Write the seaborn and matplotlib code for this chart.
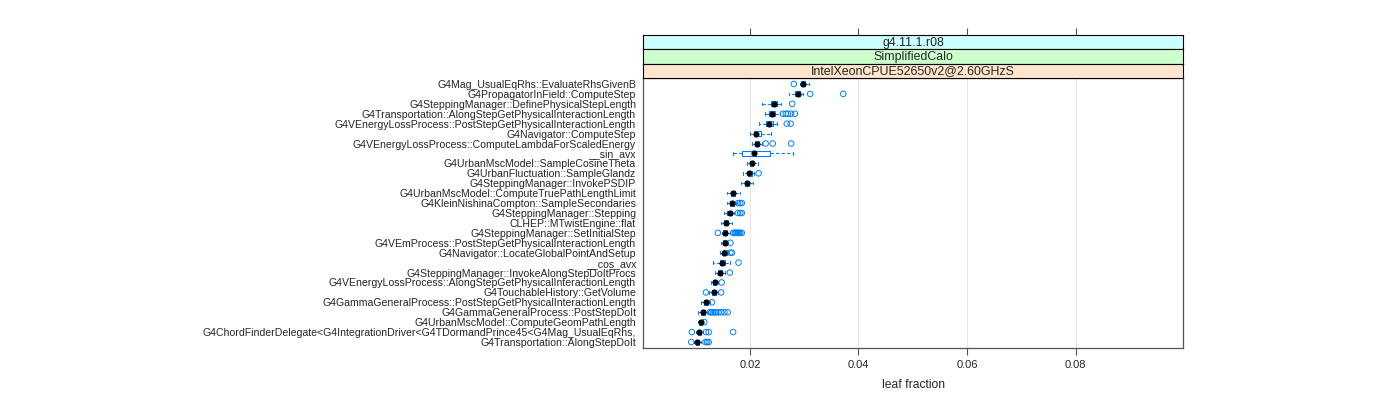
import numpy as np
import pandas as pd
import matplotlib
matplotlib.use("Agg")
import matplotlib.pyplot as plt
import seaborn as sns

# functions, top to bottom as in the profile
functions = [
    "G4Mag_UsualEqRhs::EvaluateRhsGivenB",
    "G4PropagatorInField::ComputeStep",
    "G4SteppingManager::DefinePhysicalStepLength",
    "G4Transportation::AlongStepGetPhysicalInteractionLength",
    "G4VEnergyLossProcess::PostStepGetPhysicalInteractionLength",
    "G4Navigator::ComputeStep",
    "G4VEnergyLossProcess::ComputeLambdaForScaledEnergy",
    "__sin_avx",
    "G4UrbanMscModel::SampleCosineTheta",
    "G4UrbanFluctuation::SampleGlandz",
    "G4SteppingManager::InvokePSDIP",
    "G4UrbanMscModel::ComputeTruePathLengthLimit",
    "G4KleinNishinaCompton::SampleSecondaries",
    "G4SteppingManager::Stepping",
    "CLHEP::MTwistEngine::flat",
    "G4SteppingManager::SetInitialStep",
    "G4VEmProcess::PostStepGetPhysicalInteractionLength",
    "G4Navigator::LocateGlobalPointAndSetup",
    "__cos_avx",
    "G4SteppingManager::InvokeAlongStepDoItProcs",
    "G4VEnergyLossProcess::AlongStepGetPhysicalInteractionLength",
    "G4TouchableHistory::GetVolume",
    "G4GammaGeneralProcess::PostStepGetPhysicalInteractionLength",
    "G4GammaGeneralProcess::PostStepDoIt",
    "G4UrbanMscModel::ComputeGeomPathLength",
    "G4ChordFinderDelegate<G4IntegrationDriver<G4TDormandPrince45<G4Mag_UsualEqRhs,",
    "G4Transportation::AlongStepDoIt",
]

# box statistics (leaf fraction)
whisker_low = [0.0292, 0.0272, 0.0222, 0.0227, 0.0216, 0.0201, 0.0204, 0.0168, 0.0195,
               0.0188, 0.0184, 0.0158, 0.0157, 0.0152, 0.0147, 0.0148, 0.0147, 0.0145,
               0.0132, 0.0135, 0.0129, 0.0125, 0.0109, 0.0105, 0.0105, 0.0100, 0.0097]
q1 = [0.0294, 0.0283, 0.0238, 0.0236, 0.0230, 0.0207, 0.0209, 0.0185, 0.0200,
      0.0196, 0.0191, 0.0165, 0.0163, 0.0158, 0.0153, 0.0151, 0.0151, 0.0150,
      0.0144, 0.0142, 0.0132, 0.0130, 0.0116, 0.0110, 0.0107, 0.0104, 0.0100]
median = [0.0298, 0.0289, 0.0244, 0.0241, 0.0235, 0.0212, 0.0213, 0.0207, 0.0203,
          0.0199, 0.0194, 0.0169, 0.0167, 0.0163, 0.0156, 0.0155, 0.0154, 0.0153,
          0.0149, 0.0145, 0.0135, 0.0134, 0.0119, 0.0113, 0.0109, 0.0107, 0.0103]
q3 = [0.0302, 0.0292, 0.0250, 0.0247, 0.0242, 0.0221, 0.0217, 0.0237, 0.0206,
      0.0203, 0.0198, 0.0172, 0.0170, 0.0167, 0.0159, 0.0158, 0.0158, 0.0158,
      0.0154, 0.0149, 0.0138, 0.0137, 0.0123, 0.0117, 0.0111, 0.0110, 0.0106]
whisker_high = [0.0309, 0.0297, 0.0258, 0.0255, 0.0250, 0.0239, 0.0222, 0.0279, 0.0214,
                0.0207, 0.0206, 0.0181, 0.0174, 0.0170, 0.0167, 0.0163, 0.0159, 0.0159,
                0.0163, 0.0154, 0.0141, 0.0141, 0.0126, 0.0122, 0.0113, 0.0113, 0.0110]
outliers = [
    [0.0281],
    [0.0311, 0.0372],
    [0.0278],
    [0.0261, 0.0266, 0.0270, 0.0276, 0.0283],
    [0.0268, 0.0275],
    [],
    [0.0229, 0.0242, 0.0276],
    [],
    [],
    [0.0216],
    [],
    [],
    [0.0178, 0.0182, 0.0185],
    [0.0178, 0.0182, 0.0185],
    [],
    [0.0141, 0.0169, 0.0172, 0.0174, 0.0176, 0.0178, 0.0180, 0.0182, 0.0185],
    [0.0164],
    [0.0164, 0.0167],
    [0.0179],
    [0.0163],
    [0.0148],
    [0.0119, 0.0147],
    [0.0130],
    [0.0126, 0.0129, 0.0132, 0.0135, 0.0138, 0.0142, 0.0147, 0.0153, 0.0159],
    [0.0116],
    [0.0093, 0.0119, 0.0124, 0.0169],
    [0.0092, 0.0118, 0.0121, 0.0124],
]

strip_labels = ["g4.11.1.r08", "SimplifiedCalo", "IntelXeonCPUE52650v2@2.60GHzS"]
strip_colors = ["#ccffff", "#ccffcc", "#ffe5cc"]
x_ticks = [0.02, 0.04, 0.06, 0.08]
x_limits = (0.0003, 0.0998)
blue = "#0080ff"

# long tables for seaborn
box_rows = []
for f, lo, a, m, b, hi in zip(functions, whisker_low, q1, median, q3, whisker_high):
    for v in (lo, a, m, b, hi):
        box_rows.append((f, v))
box_df = pd.DataFrame(box_rows, columns=["function", "fraction"])
med_df = pd.DataFrame({"function": functions, "fraction": median})
out_df = pd.DataFrame([(f, v) for f, vals in zip(functions, outliers) for v in vals],
                      columns=["function", "fraction"])

sns.set_style("white")
plt.rcParams["font.family"] = ["Liberation Sans", "DejaVu Sans"]

fig = plt.figure(figsize=(14, 4), dpi=100)
left, right = 643 / 1400, 1183 / 1400
bottom, top = 1 - 348 / 400, 1 - 78 / 400
ax = fig.add_axes([left, bottom, right - left, top - bottom])

sns.boxplot(data=box_df, x="fraction", y="function", order=functions, whis=(0, 100),
            showfliers=False, fill=False, color=blue, width=0.5, linewidth=0.8,
            whiskerprops={"linestyle": (0, (3, 2))}, medianprops={"visible": False}, ax=ax)

n = len(ax.collections)
sns.stripplot(data=out_df, x="fraction", y="function", order=functions, jitter=False,
              size=4.0, color=blue, linewidth=0.7, ax=ax)
for coll in ax.collections[n:]:
    coll.set_facecolor("none")
    coll.set_edgecolor(blue)

sns.stripplot(data=med_df, x="fraction", y="function", order=functions, jitter=False,
              size=4.4, color="black", linewidth=0, ax=ax, zorder=5)

ax.set_xlim(*x_limits)
ax.set_ylim(len(functions) - 0.4, -0.6)
ax.set_xticks(x_ticks)
ax.set_xticklabels([f"{t:.2f}" for t in x_ticks])
ax.grid(axis="x", color="#e6e6e6", linewidth=0.8)
ax.set_axisbelow(True)
ax.tick_params(axis="x", direction="out", length=5, width=0.8, color="#555555",
               labelsize=8, pad=4, bottom=True)
ax.tick_params(axis="y", length=0, labelsize=7.6, pad=5)
ax.set_ylabel("")
ax.set_xlabel("leaf fraction", fontsize=8.7, labelpad=6)
for s in ax.spines.values():
    s.set_color("#555555")
    s.set_linewidth(0.9)

# strips above the panel, outermost first
strip_h = (78 - 35) / 3 / 400
for i, (lab, col) in enumerate(zip(strip_labels, strip_colors)):
    y0 = top + strip_h * (len(strip_labels) - 1 - i)
    sax = fig.add_axes([left, y0, right - left, strip_h])
    sax.set_facecolor(col)
    sax.set_xlim(*x_limits)
    sax.set_yticks([])
    if i == 0:
        sax.set_xticks(x_ticks)
        sax.tick_params(axis="x", top=True, bottom=False, labeltop=False, labelbottom=False,
                        direction="out", length=5, width=0.8, color="#555555")
    else:
        sax.set_xticks([])
    for s in sax.spines.values():
        s.set_color("black")
        s.set_linewidth(0.8)
    sax.text(0.5, 0.45, lab, transform=sax.transAxes, ha="center", va="center", fontsize=8.9)

fig.savefig("out.png", dpi=100)
